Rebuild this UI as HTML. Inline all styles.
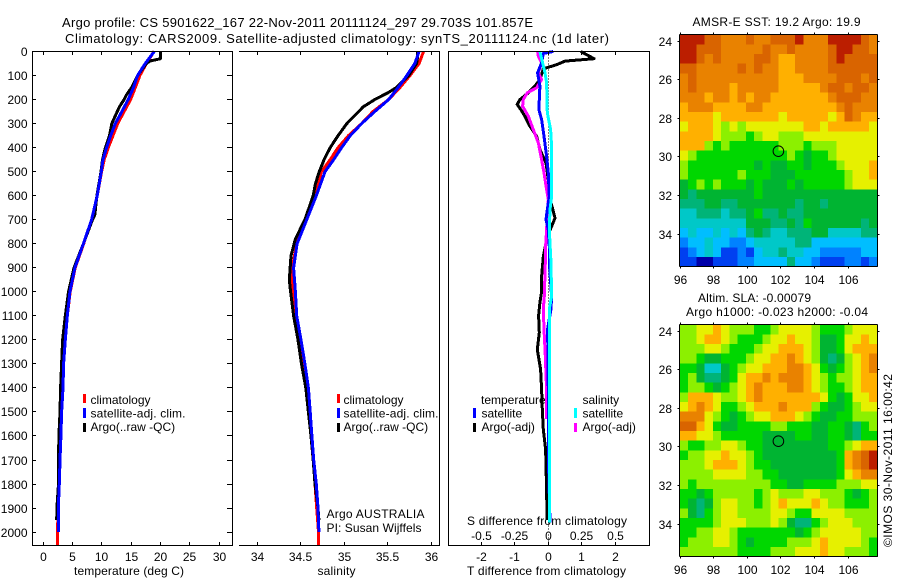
<!DOCTYPE html>
<html><head><meta charset="utf-8"><title>Argo profile</title>
<style>
html,body{margin:0;padding:0;background:#fff;width:900px;height:580px;overflow:hidden}
svg{display:block}
text{font-family:"Liberation Sans",sans-serif;font-size:12px;fill:#000}
</style></head>
<body>
<svg id="chart" xmlns="http://www.w3.org/2000/svg" width="900" height="580" viewBox="0 0 900 580">
<rect x="0" y="0" width="900" height="580" fill="#fff"/>
<text x="62" y="27" font-size="13" style="font-size:13px" textLength="471" lengthAdjust="spacing">Argo profile: CS 5901622_167 22-Nov-2011 20111124_297 29.703S 101.857E</text>
<text x="65" y="43" style="font-size:13px" textLength="544" lengthAdjust="spacing">Climatology: CARS2009. Satellite-adjusted climatology: synTS_20111124.nc (1d later)</text>

<text x="74" y="575" textLength="110">temperature (deg C)</text>
<text x="317.5" y="575" textLength="38">salinity</text>
<text x="467" y="575" textLength="159">T difference from climatology</text>
<text x="467" y="525" textLength="160">S difference from climatology</text>

<g>
<rect x="83" y="394" width="3" height="9" fill="#f00"/>
<text x="90.5" y="404">climatology</text>
<rect x="83" y="408" width="3" height="10" fill="#00f"/>
<text x="90.5" y="417.5" textLength="95">satellite-adj. clim.</text>
<rect x="83" y="423" width="3" height="9" fill="#000"/>
<text x="90.5" y="431">Argo(..raw -QC)</text>
</g>
<g>
<rect x="337" y="394" width="3" height="9" fill="#f00"/>
<text x="343.5" y="404">climatology</text>
<rect x="337" y="408" width="3" height="10" fill="#00f"/>
<text x="343.5" y="417.5" textLength="95">satellite-adj. clim.</text>
<rect x="337" y="423" width="3" height="9" fill="#000"/>
<text x="343.5" y="431">Argo(..raw -QC)</text>
</g>
<text x="326.5" y="518" textLength="98">Argo AUSTRALIA</text>
<text x="326.5" y="532" textLength="95">PI: Susan Wijffels</text>

<g>
<text x="481" y="404">temperature</text>
<rect x="473" y="408" width="3" height="10" fill="#00f"/>
<text x="481.5" y="417.5">satellite</text>
<rect x="473" y="423" width="3" height="9" fill="#000"/>
<text x="481.5" y="431">Argo(-adj)</text>
<text x="582.5" y="404">salinity</text>
<rect x="574" y="408" width="3" height="10" fill="#0ff"/>
<text x="582.5" y="417.5">satellite</text>
<rect x="574" y="423" width="3" height="9" fill="#f0f"/>
<text x="582.5" y="431">Argo(-adj)</text>
</g>

<text x="692.5" y="26" textLength="168">AMSR-E SST: 19.2 Argo: 19.9</text>
<text x="698" y="302" textLength="113">Altim. SLA: -0.00079</text>
<text x="686" y="316" textLength="182">Argo h1000: -0.023 h2000: -0.04</text>
<text transform="translate(892 547) rotate(-90)" x="0" y="0" textLength="173">©IMOS 30-Nov-2011 16:00:42</text>
</svg>

<script>
var depthTicks = [0,100,200,300,400,500,600,700,800,900,1000,1100,1200,1300,1400,1500,1600,1700,1800,1900,2000];
var temperatureTicks = [0,5,10,15,20,25,30];
var salinityTicks = [34,34.5,35,35.5,36];
var tDiffTicks = [-2,-1,0,1,2];
var tDiffLabels = ["-2","-1","0","1","2"];
var sDiffLabels = ["-0.5","-0.25","0","0.25","0.5"];
var lonTicks = [96,98,100,102,104,106];
var latTicks = [24,26,28,30,32,34];

var climDepth = [0,50,100,150,200,250,300,350,400,450,500,600,700,800,900,1000,1100,1200,1300,1400,1500,1600,1700,1800,1900,2000,2053];
var tempClim = [18.9,17.6,16.5,15.7,14.9,13.8,12.7,11.9,11.1,10.4,9.95,9.2,8.25,6.9,5.45,4.6,4.1,3.75,3.47,3.36,3.13,3.0,2.85,2.73,2.56,2.4,2.4];
var salClim = [35.91,35.86,35.755,35.64,35.51,35.33,35.2,35.05,34.93,34.84,34.74,34.65,34.55,34.455,34.405,34.405,34.43,34.48,34.52,34.57,34.6,34.62,34.645,34.665,34.685,34.705,34.705];

var satDepth = [0,50,100,150,200,250,300,350,400,450,500,600,700,800,900,1000,1100,1200,1300,1400,1500,1600,1700,1800,1900,2000];
var tempSat = [18.95,17.4,16.1,15.4,14.5,13.4,12.3,11.5,10.8,10.2,9.9,9.2,8.25,6.85,5.4,4.55,4.1,3.75,3.47,3.36,3.13,3.0,2.85,2.73,2.56,2.56];
var salSat = [35.86,35.81,35.72,35.62,35.51,35.35,35.2,35.07,34.97,34.88,34.78,34.68,34.57,34.46,34.42,34.44,34.455,34.505,34.55,34.59,34.61,34.63,34.65,34.68,34.7,34.71];

var tempArgoDepth = [0,30,40,50,100,150,180,200,230,300,350,400,450,500,600,680,700,800,900,1000,1100,1200,1300,1400,1500,1600,1700,1800,1900,1950];
var tempArgo = [20.0,20.0,18.2,17.6,16.1,15.1,14.2,13.8,13.0,11.7,11.3,10.6,10.1,9.85,9.15,8.8,8.4,6.85,5.25,4.3,3.75,3.3,3.13,2.96,2.85,2.67,2.6,2.6,2.33,2.28];

var salArgoDepth = [0,30,50,100,150,170,200,230,300,350,400,450,500,550,600,700,780,850,950,1000,1100,1200,1300,1400,1500,1600,1700,1800,1900,1950];
var salArgo = [35.84,35.84,35.83,35.74,35.6,35.51,35.35,35.22,35.03,34.93,34.84,34.77,34.715,34.67,34.645,34.55,34.44,34.39,34.37,34.385,34.42,34.47,34.51,34.56,34.59,34.62,34.645,34.665,34.7,34.71];

var diffTArgoDepth = [0,30,40,55,72,117,144,172,200,220,242,270,311,353,408,464,533,603,665,693,728,769,853,936,1000,1044,1100,1170,1240,1322,1406,1489,1572,1655,1725,1822,1933,1950];
var diffTArgo = [0.97,1.37,0.5,0.25,-0.15,-0.25,-0.4,-0.6,-0.85,-0.93,-0.82,-0.7,-0.55,-0.35,-0.25,-0.07,0,0.03,0.15,0.2,0.1,-0.03,-0.15,-0.2,-0.2,-0.25,-0.29,-0.27,-0.33,-0.23,-0.2,-0.18,-0.15,-0.08,-0.07,-0.05,-0.04,-0.04];

var diffTSatDepth = [0,8,47,89,144,200,242,283,353,436,505,603,658,700,742,811,880,1019,1072,1155,1406,1683,1960];
var diffTSat = [0.15,-0.15,-0.2,-0.32,-0.25,-0.27,-0.28,-0.2,-0.13,-0.05,0,0.03,-0.03,-0.07,0,0.03,0.03,0.1,0.08,-0.02,0,0,0.05];

var diffSSatDepth = [0,47,89,130,255,325,394,519,603,658,742,880,1019,1072,1267,1544,1960];
var diffSSat = [-0.25,-0.17,-0.1,-0.05,-0.03,0.07,0.1,0.1,0.1,0.05,0.03,0.08,0.1,0.03,0.03,0.03,0.03];

var diffSArgoDepth = [0,20,47,89,117,151,172,200,228,269,325,380,436,505,575,617,672,742,811,880,1019,1072,1155,1267,1406,1530];
var diffSArgo = [-0.32,-0.3,-0.2,-0.3,-0.2,-0.35,-0.63,-0.75,-0.77,-0.6,-0.45,-0.3,-0.22,-0.13,-0.05,0,-0.03,-0.05,-0.08,-0.09,-0.12,-0.15,-0.13,-0.09,-0.05,-0.05];

var sstCells = [
[13,13,13,12,12,11,11,11,12,11,11,12,12,12,13,11,11,11,13,13,13,13,12,11],
[13,13,12,12,12,11,11,11,11,11,12,11,11,12,11,11,11,11,12,13,13,12,12,11],
[13,13,12,11,12,11,11,11,11,12,12,11,10,10,11,11,11,11,12,13,12,12,12,12],
[12,12,11,11,11,11,11,12,11,12,11,11,10,10,11,11,11,11,12,12,12,12,12,12],
[11,12,11,11,11,11,11,11,11,11,11,11,10,10,10,11,11,11,11,12,12,12,11,12],
[11,12,11,11,11,11,10,11,11,11,11,11,10,10,10,10,10,11,12,12,11,12,12,11],
[11,11,11,10,11,11,10,11,10,11,11,10,10,10,10,10,10,10,11,12,12,12,11,11],
[10,11,11,11,10,10,10,10,11,11,10,10,10,10,10,10,10,10,10,11,12,11,11,11],
[10,10,10,10,9,10,10,10,10,10,10,10,9,10,10,10,10,10,9,10,12,11,10,10],
[9,10,10,10,9,8,9,8,9,9,9,9,9,9,9,10,10,9,10,10,10,10,10,9],
[10,10,10,10,9,8,8,8,7,8,9,9,8,8,8,9,9,9,9,9,9,9,9,9],
[10,10,10,8,7,8,7,7,7,7,7,7,8,8,8,7,8,8,8,9,9,9,9,9],
[9,8,7,7,7,7,7,7,7,7,7,7,7,8,7,6,7,7,8,9,9,9,9,9],
[8,7,7,7,7,7,7,7,7,6,7,6,6,7,7,6,7,7,7,8,9,9,9,10],
[8,7,7,7,7,7,7,8,7,7,7,6,6,6,7,7,7,7,7,7,8,9,9,10],
[6,7,8,7,8,7,7,7,6,7,6,6,6,7,6,7,7,7,7,7,8,9,9,9],
[6,5,6,6,6,6,6,6,6,7,6,6,6,6,6,6,6,6,6,6,6,6,6,6],
[5,5,5,6,6,5,5,6,6,6,6,6,6,6,5,6,6,5,6,6,6,6,6,6],
[4,4,5,5,5,4,5,5,6,7,5,5,6,5,5,6,6,6,6,6,6,6,6,6],
[4,4,4,4,4,4,4,4,6,6,6,5,5,6,5,7,6,6,6,6,6,6,5,6],
[3,4,3,3,4,3,4,3,5,6,5,4,4,5,5,5,6,6,4,4,4,4,5,5],
[2,3,3,4,3,3,2,2,3,4,4,4,4,4,5,5,3,3,3,3,3,3,3,3],
[1,2,3,4,3,1,1,2,1,3,4,4,5,4,4,3,3,2,2,2,2,2,3,3],
[1,1,0,0,1,1,1,2,2,3,3,3,3,5,3,3,2,1,1,1,2,2,1,2]
];

var slaCells = [
[8,8,9,9,10,9,8,8,8,7,7,8,9,9,9,9,8,7,7,7,8,9,9,9],
[8,8,9,10,10,9,8,7,7,7,8,9,9,10,9,9,8,6,6,7,9,9,10,9],
[8,8,8,9,9,8,7,7,7,8,9,9,10,10,10,9,8,6,6,7,9,10,10,10],
[8,8,7,6,6,7,7,7,8,9,9,10,10,11,10,9,8,6,5,6,8,9,10,11],
[7,7,6,4,4,6,7,8,9,9,10,10,10,11,11,10,9,7,6,7,8,9,10,11],
[7,8,6,5,5,6,7,9,10,10,11,10,11,11,11,10,9,8,7,8,8,9,10,10],
[7,8,8,7,6,7,8,9,10,11,10,10,10,11,11,10,9,8,7,7,8,9,10,10],
[8,10,10,10,9,8,8,9,10,11,10,10,10,10,10,10,10,9,7,6,7,9,9,10],
[9,10,11,10,9,7,7,8,9,10,10,10,11,10,10,10,8,7,6,6,7,8,9,9],
[11,11,11,9,8,7,6,7,8,9,9,10,10,10,9,8,7,6,6,7,7,8,8,8],
[12,12,10,9,7,6,6,7,7,7,7,8,8,7,7,7,6,6,7,7,6,5,7,8],
[10,10,9,9,8,7,7,7,7,7,6,6,6,6,7,7,6,6,7,7,6,5,7,7],
[8,7,7,8,8,9,9,8,7,7,6,6,6,6,6,6,6,6,7,7,8,9,10,10],
[7,8,8,9,9,10,9,9,8,7,6,6,6,6,6,6,6,6,6,7,10,11,12,13],
[8,8,8,9,10,10,10,9,8,7,7,6,6,6,6,6,6,6,6,7,10,11,12,13],
[8,8,8,8,9,9,9,9,8,8,7,7,6,6,6,6,6,6,6,7,9,10,11,11],
[8,7,8,8,8,8,8,8,8,8,8,7,7,6,6,7,7,7,7,8,8,8,9,9],
[7,7,6,7,8,8,8,8,8,7,8,9,8,8,8,9,9,8,8,8,7,6,7,8],
[7,6,5,6,8,9,9,8,8,7,8,9,10,9,9,9,10,9,8,8,7,7,7,8],
[8,6,5,7,8,9,9,8,8,8,8,9,9,8,7,7,9,9,9,9,8,8,8,8],
[7,7,7,7,8,9,9,9,8,8,8,9,8,6,5,5,7,8,9,9,9,8,8,8],
[7,7,8,8,9,9,8,7,7,7,7,7,7,7,6,7,8,9,9,9,9,9,8,8],
[7,8,8,8,9,9,8,7,6,7,7,7,7,8,8,8,9,10,9,9,9,9,8,7],
[8,8,8,8,8,8,8,7,7,7,7,8,8,8,9,9,9,10,9,9,8,8,8,7]
];

var colormap = ["#0000aa","#0040f0","#0082ff","#00beff","#00c8c8","#00b478","#00b432","#00d700","#8cf000","#e6f000","#ffb000","#e98200","#d96400","#bb1e00"];

var profileLon = 101.857;
var profileLat = 29.703;

var NS = "http://www.w3.org/2000/svg";
var svg = document.getElementById("chart");

function yDepth(d){ return 51.5 + d * 0.2403; }
function xTemp(t){ return 43.3 + t * 5.857; }
function xSal(s){ return 257 + (s - 34) * 87.17; }
function xDiff(v){ return 548.3 + v * 33.4; }
function xLon(lon){ return 680 + (lon - 96) * 16.8; }
function ySst(lat){ return 41 + (lat - 24) * 19.33; }
function ySla(lat){ return 331 + (lat - 24) * 19.33; }

function mk(tag, parent, attrs){
  var el = document.createElementNS(NS, tag);
  for (var k in attrs) el.setAttribute(k, attrs[k]);
  parent.appendChild(el);
  return el;
}
function seg(parent, name, x1, y1, x2, y2){
  var el = mk("line", parent, {x1:x1, y1:y1, x2:x2, y2:y2, stroke:"#000", "stroke-width":1, "shape-rendering":"crispEdges"});
  
  
  return el;
}
function label(parent, name, x, y, anchor, str){
  var el = mk("text", parent, {x:x, y:y, "text-anchor":anchor});
  el.textContent = str;
  
  
  return el;
}
function profile(parent, name, color, depths, values, xf){
  var pts = [];
  for (var i = 0; i < depths.length; i++) pts.push(xf(values[i]).toFixed(1) + "," + yDepth(depths[i]).toFixed(1));
  var el = mk("polyline", parent, {points:pts.join(" "), fill:"none", stroke:color, "stroke-width":3, "stroke-linejoin":"round", "shape-rendering":"crispEdges"});
  
  
  return el;
}
function group(name){
  var g = mk("g", svg, {});
  
  
  return g;
}
var top0 = 51.5, bot0 = 545.5;

/* temperature panel */
var p1 = group('temperature-panel');
profile(p1, 'temperature-climatology-line', '#f00', climDepth, tempClim, xTemp);
profile(p1, 'temperature-argo-line', '#000', tempArgoDepth, tempArgo, xTemp);
profile(p1, 'temperature-satellite-line', '#00f', satDepth, tempSat, xTemp);
seg(p1, 'left-axis-line', 32.5, top0, 32.5, bot0);
seg(p1, 'right-axis-line', 232.5, top0, 232.5, bot0);
seg(p1, 'top-axis-line', 32, top0, 233, top0);
seg(p1, 'bottom-axis-line', 32, bot0, 233, bot0);
depthTicks.forEach(function(d){
  var y = Math.floor(yDepth(d)) + 0.5;
  seg(p1, 'depth-tick-left', 33, y, 36, y);
  seg(p1, 'depth-tick-right', 227, y, 232, y);
  label(p1, 'depth-tick-label', 27.5, y + 4.5, 'end', String(d));
});
temperatureTicks.forEach(function(t){
  var x = Math.floor(xTemp(t)) + 0.5;
  seg(p1, 'temperature-tick-top', x, 52, x, 55);
  seg(p1, 'temperature-tick-bottom', x, 542, x, 545);
  label(p1, 'temperature-tick-label', x, 561, 'middle', String(t));
});

/* salinity panel */
var p2 = group('salinity-panel');
profile(p2, 'salinity-climatology-line', '#f00', climDepth, salClim, xSal);
profile(p2, 'salinity-argo-line', '#000', salArgoDepth, salArgo, xSal);
profile(p2, 'salinity-satellite-line', '#00f', satDepth, salSat, xSal);
seg(p2, 'right-axis-line', 439.5, top0, 439.5, bot0);
seg(p2, 'top-axis-line', 239, top0, 440, top0);
seg(p2, 'bottom-axis-line', 239, bot0, 440, bot0);
salinityTicks.forEach(function(s){
  var x = Math.floor(xSal(s)) + 0.5;
  seg(p2, 'salinity-tick-top', x, 52, x, 55);
  seg(p2, 'salinity-tick-bottom', x, 542, x, 545);
  label(p2, 'salinity-tick-label', x, 561, 'middle', String(s));
});

/* difference panel */
var p3 = group('difference-panel');
var zero = seg(p3, 'zero-difference-line', 548.5, top0, 548.5, bot0);
zero.setAttribute('stroke-dasharray', '1 2');
profile(p3, 't-argo-difference-line', '#000', diffTArgoDepth, diffTArgo, xDiff);
profile(p3, 's-argo-difference-line', '#f0f', diffSArgoDepth, diffSArgo, xDiff);
profile(p3, 't-satellite-difference-line', '#00f', diffTSatDepth, diffTSat, xDiff);
profile(p3, 's-satellite-difference-line', '#0ff', diffSSatDepth, diffSSat, xDiff);
seg(p3, 'left-axis-line', 448.5, top0, 448.5, bot0);
seg(p3, 'right-axis-line', 649.5, top0, 649.5, bot0);
seg(p3, 'top-axis-line', 448, top0, 650, top0);
seg(p3, 'bottom-axis-line', 448, bot0, 650, bot0);
tDiffTicks.forEach(function(t, i){
  var x = Math.floor(xDiff(t)) + 0.5;
  seg(p3, 'difference-tick-top', x, 52, x, 55);
  seg(p3, 'difference-tick-bottom', x, 542, x, 545);
  label(p3, 't-difference-tick-label', x, 561, 'middle', tDiffLabels[i]);
  label(p3, 's-difference-tick-label', x, 540, 'middle', sDiffLabels[i]);
});

/* maps */
function drawMap(name, cells, yf, labelY){
  var g = group(name);
  var lonStep = 11.75 / cells[0].length;
  var latStep = 12 / cells.length;
  var lat0 = 23.67;
  cells.forEach(function(row, r){
    row.forEach(function(v, c){
      var x0 = xLon(96 + c * lonStep), x1 = xLon(96 + (c + 1) * lonStep);
      var y0 = yf(lat0 + r * latStep), y1 = yf(lat0 + (r + 1) * latStep);
      var cell = mk("rect", g, {x:x0.toFixed(2), y:y0.toFixed(2), width:(x1 - x0 + 0.4).toFixed(2), height:(y1 - y0 + 0.4).toFixed(2), fill:colormap[v], "shape-rendering":"crispEdges"});
      
      
    });
  });
  var top = Math.round(yf(lat0)) - 0.5, bot = Math.round(yf(lat0 + 12)) - 0.5;
  var lft = 679.5, rgt = 877.5;
  seg(g, 'map-frame-top', lft, top, rgt, top);
  seg(g, 'map-frame-bottom', lft, bot, rgt, bot);
  seg(g, 'map-frame-left', lft, top, lft, bot);
  seg(g, 'map-frame-right', rgt, top, rgt, bot);
  lonTicks.forEach(function(lon){
    var x = Math.floor(xLon(lon)) + 0.5;
    seg(g, 'longitude-tick-top', x, top - 2, x, top);
    seg(g, 'longitude-tick-bottom', x, bot, x, bot + 2);
    label(g, 'longitude-tick-label', x, labelY, 'middle', String(lon));
  });
  latTicks.forEach(function(lat){
    var y = Math.floor(yf(lat)) + 0.5;
    seg(g, 'latitude-tick-left', lft - 2, y, lft, y);
    seg(g, 'latitude-tick-right', rgt, y, rgt + 2, y);
    label(g, 'latitude-tick-label', 672, y + 4.5, 'end', String(lat));
  });
  var marker = mk("circle", g, {cx:xLon(profileLon).toFixed(1), cy:yf(profileLat).toFixed(1), r:5.3, fill:"none", stroke:"#000", "stroke-width":1});
  
  
}
drawMap('sst-map', sstCells, ySst, 284);
drawMap('sla-map', slaCells, ySla, 574);
</script>
</body></html>
